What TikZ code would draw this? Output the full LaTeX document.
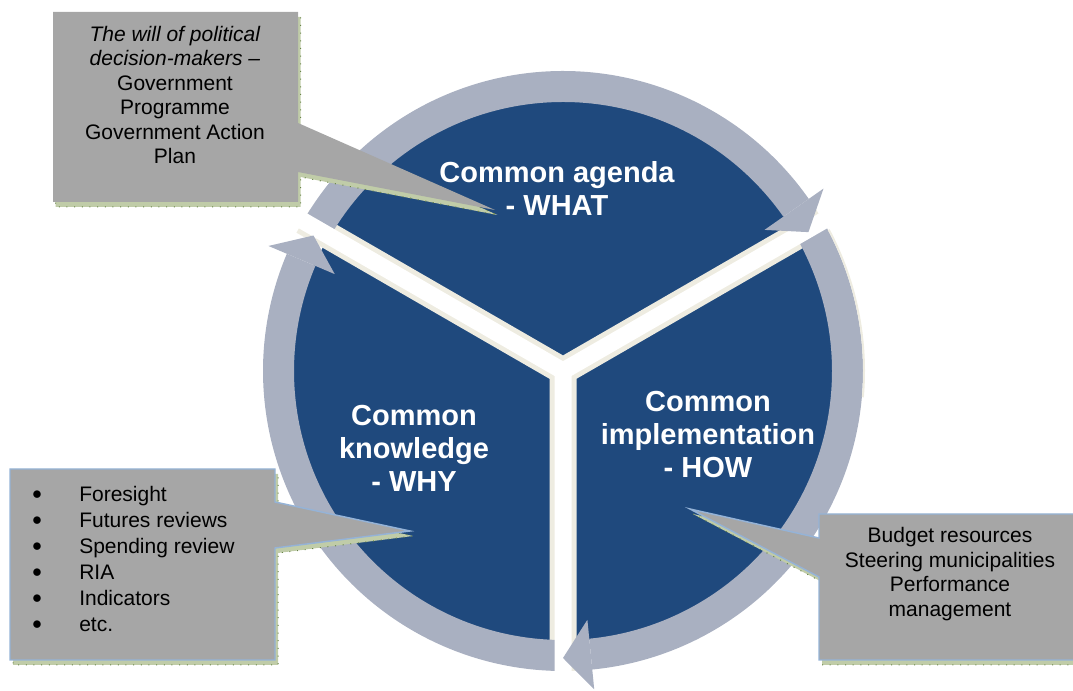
\documentclass[tikz,border=0pt]{standalone}
\usepackage{fontspec}
\setmainfont{Liberation Sans}
\usepackage{tikz}
\usetikzlibrary{positioning,calc}
\definecolor{sectorblue}{RGB}{31,73,125}
\definecolor{ringgray}{RGB}{169,176,193}
\definecolor{cream}{RGB}{238,236,225}
\definecolor{calloutgray}{RGB}{166,166,166}
\definecolor{calloutblue}{RGB}{149,179,215}
\definecolor{shadowolive}{RGB}{192,204,168}
\definecolor{shadowgreen}{RGB}{104,132,72}
\tikzset{
  basic/.style   = {inner sep=0pt, align=center},
  callout text/.style = {basic, font=\fontsize{15.75}{18.4}\selectfont},
  list text/.style    = {inner sep=0pt, font=\fontsize{15.75}{18.4}\selectfont},
  list dot/.style     = {inner sep=0pt, font=\fontsize{13}{14}\selectfont},
  sector text/.style  = {basic, text=white,
                         font=\fontsize{21.75}{24.75}\selectfont\bfseries},
  ring/.style    = {fill=ringgray},
  gapline/.style = {line width=20.25pt, draw=cream},
  gapwhite/.style = {line width=12.75pt, draw=white},
  callout/.style = {fill=calloutgray},
  callout edge/.style = {callout, draw=calloutblue, line width=1.1pt},
  calloutshadow/.style = {fill=shadowolive, draw=shadowgreen, line width=0.75pt,
                          dash pattern=on 0.75pt off 5pt}
}

\begin{document}
\begin{tikzpicture}[x=0.75pt, y=0.75pt]
  \useasboundingbox (0,0) rectangle (1073,691);
  % the cycle
  \begin{scope}[shift={(563,320)}]
    \fill[sectorblue] (0,0) circle[radius=270];
    \draw[gapline] (0,0) -- (30:300) (0,0) -- (150:300) (0,0) -- (270:300);
    \fill[ring] (150:269) arc[start angle=150, end angle=35, radius=269]
      -- (35:300) arc[start angle=35, end angle=150, radius=300] -- cycle;
    \fill[ring] (30:269) arc[start angle=30, end angle=-84.4, radius=269]
      -- (-84.4:300) arc[start angle=-84.4, end angle=30, radius=300] -- cycle;
    \fill[ring] (270:269) arc[start angle=270, end angle=157, radius=269]
      -- (157:300) arc[start angle=157, end angle=270, radius=300] -- cycle;
    \draw[cream, line width=1.5pt] (28:301) arc[start angle=28, end angle=-5, radius=301];
    \draw[gapwhite] (0,0) -- (30:302) (0,0) -- (150:302) (0,0) -- (270:302);
    % heads
    \fill[ring] (35:246) -- (29.5:282) -- (35:318) -- cycle;
    \fill[ring] (-84.4:250) -- (-90:287) -- (-84.4:320) -- cycle;
    \fill[ring] (157:248) -- (151.5:284) -- (157:320) -- cycle;
  \end{scope}

  \node[sector text] (what) at (557,502.5) {Common agenda\\- WHAT};
  \node[sector text] (how) at (708,256) {Common\\implementation\\- HOW};
  \node[sector text] (why) at (414,243) {Common\\knowledge\\- WHY};

  % callouts
  \fill[calloutshadow, shift={(2.5,-5)}] (53,679) -- (298,679) -- (298,568) -- (495,481)
    -- (298,519) -- (298,489) -- (53,489) -- cycle;
  \fill[callout] (53,679) -- (298,679) -- (298,568) -- (495,481)
    -- (298,519) -- (298,489) -- (53,489) -- cycle;
  \node[callout text] (will) at (175,596) {\textit{The will of political}\\
    \textit{decision-makers –}\\Government\\Programme\\Government Action\\Plan};

  \filldraw[calloutshadow, shift={(3,-5)}] (10,222) -- (275,222) -- (275,189) -- (410,160)
    -- (275,143) -- (275,31) -- (10,31) -- cycle;
  \filldraw[callout edge] (10,222) -- (275,222) -- (275,189) -- (410,160)
    -- (275,143) -- (275,31) -- (10,31) -- cycle;
  \foreach \entry [count=\i] in {Foresight, Futures reviews, Spending review, RIA,
    Indicators, etc.}{
    \node[list dot, anchor=base] (dot\i) at (37,{217.5-26*\i}) {●};
    \node[list text, anchor=base west] (know\i) at (79,{215.5-26*\i}) {\entry};
  }

  \filldraw[calloutshadow, shift={(3,-5)}] (819,177) -- (1080,177) -- (1080,31) -- (819,31)
    -- (819,114) -- (690,182) -- (819,153) -- cycle;
  \filldraw[callout edge] (819,177) -- (1080,177) -- (1080,31) -- (819,31)
    -- (819,114) -- (690,182) -- (819,153) -- cycle;
  \node[callout text] (budget) at (950,117) {Budget resources\\Steering municipalities\\
    Performance\\management};
\end{tikzpicture}
\end{document}
